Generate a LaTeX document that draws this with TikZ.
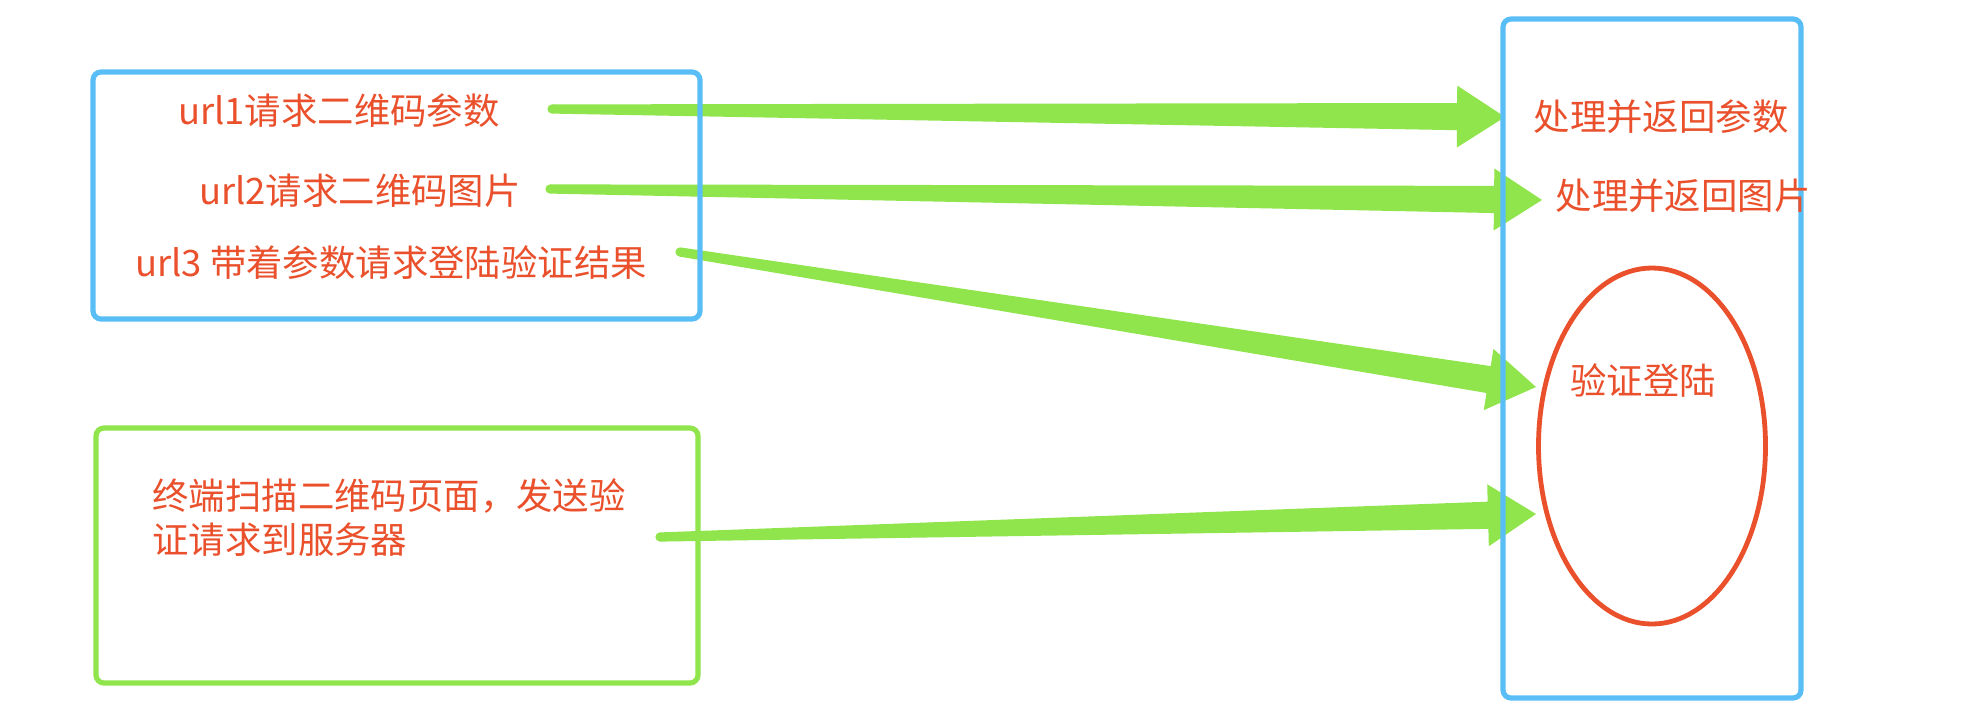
\documentclass[tikz,border=0pt]{standalone}
\usepackage{fontspec}
\setmainfont{Noto Sans CJK SC}
\usetikzlibrary{calc,shapes.geometric}
\definecolor{arrowgreen}{RGB}{143,229,75}
\definecolor{boxblue}{RGB}{90,190,246}
\definecolor{txtred}{RGB}{233,80,43}
\newcommand\fatarrow[3]{%
  \coordinate (#1hb) at ($(#3)!24pt!(#2)$);
  \fill[arrowgreen] ($(#2)!2.3pt!90:(#3)$) -- ($(#1hb)!6.8pt!90:(#3)$) -- ($(#1hb)!15.5pt!90:(#3)$) -- (#3) -- ($(#1hb)!15.5pt!-90:(#3)$) -- ($(#1hb)!6.8pt!-90:(#3)$) -- ($(#2)!2.3pt!-90:(#3)$) -- cycle;
  \fill[arrowgreen] (#2) circle (2.3pt);
}
\begin{document}
\begin{tikzpicture}[x=0.5pt,y=-0.5pt,
  lbl/.style={text=txtred,inner sep=0pt,font=\fontsize{18.2}{22}\selectfont},
  bluebox/.style={draw=boxblue,line width=2.6pt,rounded corners=4pt},
  greenbox/.style={draw=arrowgreen,line width=2.6pt,rounded corners=4pt}]
\useasboundingbox (0,0) rectangle (1980,718);
% arrow ends
\coordinate (s1) at (552,109);
\coordinate (t1) at (1505,117);
\coordinate (s2) at (550,189);
\coordinate (t2) at (1542,200);
\coordinate (s3) at (680,252);
\coordinate (t3) at (1536,387);
\coordinate (s4) at (660,537);
\coordinate (t4) at (1536,514);
\fatarrow{a1}{s1}{t1}
\fatarrow{a2}{s2}{t2}
\fatarrow{a3}{s3}{t3}
\fatarrow{a4}{s4}{t4}
% boxes
\draw[bluebox] (93,72) rectangle (700,319);
\draw[greenbox] (96,428) rectangle (698,683);
\draw[bluebox] (1503,19) rectangle (1801,698);
\node (ell) [ellipse,draw=txtred,line width=2.4pt,minimum width=113.5pt,minimum height=178pt,inner sep=0pt] at (1652,446) {};
% texts
\node[lbl] (u1) at (339,111) {url1请求二维码参数};
\node[lbl] (u2) at (360,191) {url2请求二维码图片};
\node[lbl] (u3) at (391,263) {url3 带着参数请求登陆验证结果};
\node[lbl] (r1) at (1661,117) {处理并返回参数};
\node[lbl] (r2) at (1683,196) {处理并返回图片};
\node[lbl] (r3) at (1643,380) {验证登陆};
\node[lbl,anchor=west,align=left] (g) at (152,518) {终端扫描二维码页面，发送验\\证请求到服务器};
\end{tikzpicture}
\end{document}
